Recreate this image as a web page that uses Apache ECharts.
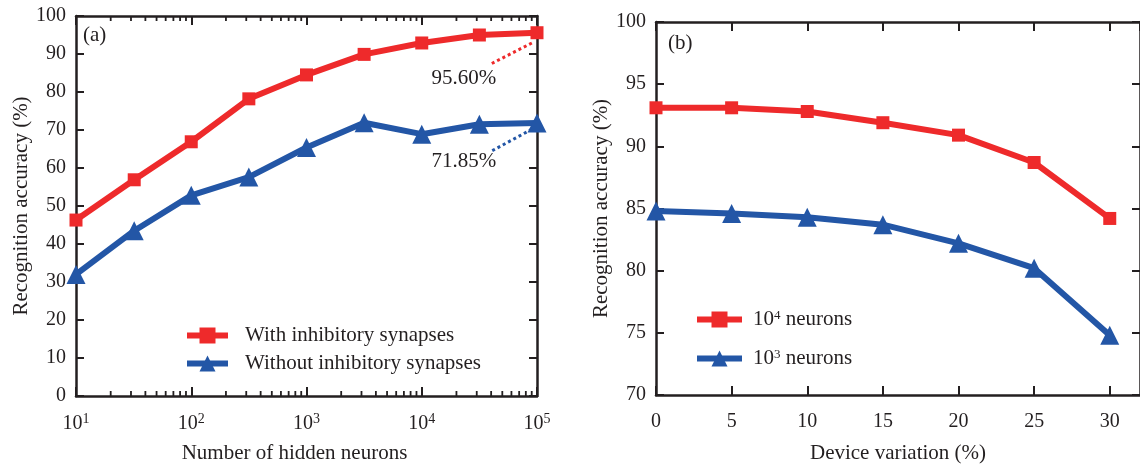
<!DOCTYPE html>
<html>
<head>
<meta charset="utf-8">
<script src="https://cdn.jsdelivr.net/npm/echarts@6/dist/echarts.min.js"></script>
<style>
  html, body { margin: 0; padding: 0; background: #fff; overflow: hidden; }
  #chart { width: 1140px; height: 469px; }
</style>
</head>
<body>
<div id="chart"></div>
<script>
// (a) accuracy versus number of hidden neurons
const hiddenNeurons = [10, 32, 100, 316, 1000, 3162, 10000, 31623, 100000];
const accWithInhibitory = [46.3, 56.9, 66.9, 78.2, 84.5, 89.9, 92.9, 95.0, 95.6];
const accWithoutInhibitory = [32.0, 43.5, 52.8, 57.6, 65.4, 71.9, 68.9, 71.5, 71.85];

// (b) accuracy versus device variation
const deviceVariation = [0, 5, 10, 15, 20, 25, 30];
const acc1e4Neurons = [93.1, 93.1, 92.8, 91.9, 90.9, 88.7, 84.2];
const acc1e3Neurons = [84.8, 84.6, 84.3, 83.7, 82.2, 80.2, 74.8];

// axis tick settings
const leftYTicks = { min: 0, max: 100, interval: 10 };
const rightYTicks = { min: 70, max: 100, interval: 5 };
const rightXTicks = { min: 0, max: 32, interval: 5 };
const logDecades = [1, 2, 3, 4];
const logMantissas = [2, 3, 4, 5, 6, 7, 8, 9];

const RED = '#ee2a2b';
const BLUE = '#2356a6';
const INK = '#231f20';
const FONT = 'Liberation Serif';

const minorLogTicks = [];
logDecades.forEach(e => logMantissas.forEach(m => minorLogTicks.push([m * Math.pow(10, e), 0])));

const pairs = (xs, ys) => xs.map((x, i) => [x, ys[i]]);

const axisLine = { show: true, onZero: false, lineStyle: { color: INK, width: 2.5 } };
const tickIn = (len) => ({ show: true, inside: true, length: len, lineStyle: { color: INK, width: 2 } });
const labelStyle = { color: INK, fontFamily: FONT, fontSize: 20 };
const nameStyle = { color: INK, fontFamily: FONT, fontSize: 21 };

const supRich = {
  b: { fontFamily: FONT, fontSize: 20, color: INK, verticalAlign: 'bottom', padding: [2, 0, 0, 0] },
  s: { fontFamily: FONT, fontSize: 14, color: INK, verticalAlign: 'top' }
};

const lastWith = accWithInhibitory[accWithInhibitory.length - 1];
const lastWithout = accWithoutInhibitory[accWithoutInhibitory.length - 1];
const pct = v => v.toFixed(2) + '%';

const lineSeries = (name, data, color, symbol, size, xi, yi) => ({
  name, type: 'line', data, xAxisIndex: xi, yAxisIndex: yi,
  symbol, symbolSize: size, showSymbol: true,
  lineStyle: { color, width: 6 },
  itemStyle: { color },
  z: 5
});

const chart = echarts.init(document.getElementById('chart'), null, { renderer: 'canvas' });

const option = {
  animation: false,
  backgroundColor: '#fff',
  textStyle: { fontFamily: FONT },
  grid: [
    { left: 76, top: 16, width: 461, height: 383.3 },
    { left: 656, top: 22, width: 486, height: 375 }
  ],
  xAxis: [
    {
      gridIndex: 0, type: 'log', logBase: 10, min: 10, max: 100000, position: 'bottom',
      axisLine, axisTick: tickIn(9), splitLine: { show: false },
      axisLabel: {
        margin: 16,
        formatter: v => '{b|10}{s|' + Math.round(Math.log10(v)) + '}',
        rich: supRich
      },
      name: 'Number of hidden neurons', nameLocation: 'middle', nameGap: 47,
      nameTextStyle: { ...nameStyle, padding: [0, 24, 0, 0] }
    },
    {
      gridIndex: 0, type: 'log', logBase: 10, min: 10, max: 100000, position: 'top',
      axisLine, axisTick: tickIn(9), axisLabel: { show: false }, splitLine: { show: false }
    },
    {
      gridIndex: 1, type: 'value', ...rightXTicks, position: 'bottom',
      axisLine, axisTick: tickIn(9), splitLine: { show: false },
      axisLabel: {
        ...labelStyle, margin: 17, showMaxLabel: false,
        formatter: v => (v % 5 === 0 ? String(v) : '')
      },
      name: 'Device variation (%)', nameLocation: 'middle', nameGap: 48, nameTextStyle: nameStyle
    },
    {
      gridIndex: 1, type: 'value', ...rightXTicks, position: 'top',
      axisLine, axisTick: tickIn(9), axisLabel: { show: false }, splitLine: { show: false }
    }
  ],
  yAxis: [
    {
      gridIndex: 0, type: 'value', ...leftYTicks, position: 'left',
      axisLine, axisTick: tickIn(8), splitLine: { show: false },
      axisLabel: { ...labelStyle, margin: 10 },
      name: 'Recognition accuracy (%)', nameLocation: 'middle', nameGap: 41, nameTextStyle: nameStyle
    },
    {
      gridIndex: 0, type: 'value', ...leftYTicks, position: 'right',
      axisLine, axisTick: tickIn(8), axisLabel: { show: false }, splitLine: { show: false }
    },
    {
      gridIndex: 1, type: 'value', ...rightYTicks, position: 'left',
      axisLine, axisTick: tickIn(8), splitLine: { show: false },
      axisLabel: { ...labelStyle, margin: 10 },
      name: 'Recognition accuracy (%)', nameLocation: 'middle', nameGap: 41, nameTextStyle: nameStyle
    },
    {
      gridIndex: 1, type: 'value', ...rightYTicks, position: 'right',
      axisLine, axisTick: tickIn(8), axisLabel: { show: false }, splitLine: { show: false }
    }
  ],
  legend: [
    {
      data: ['With inhibitory synapses', 'Without inhibitory synapses'],
      orient: 'vertical', left: 179, top: 320,
      itemWidth: 41, itemHeight: 20, itemGap: 7,
      lineStyle: { width: 6 },
      textStyle: { color: INK, fontFamily: FONT, fontSize: 21, padding: [0, 0, 0, 12] },
      selectedMode: false
    },
    {
      data: ['1e4', '1e3'],
      orient: 'vertical', left: 689, top: 304,
      itemWidth: 45, itemHeight: 20, itemGap: 18,
      lineStyle: { width: 6 },
      formatter: n => '{b|10}{s|' + (n === '1e4' ? '4' : '3') + '}{b| neurons}',
      textStyle: {
        color: INK, fontFamily: FONT, fontSize: 21, padding: [0, 0, 0, 6],
        rich: {
          b: { fontFamily: FONT, fontSize: 21, color: INK },
          s: { fontFamily: FONT, fontSize: 13, color: INK, verticalAlign: 'top' }
        }
      },
      selectedMode: false
    }
  ],
  graphic: [
    { type: 'text', left: 83, top: 25, style: { text: '(a)', font: '21px "Liberation Serif"', fill: INK } },
    { type: 'text', left: 668, top: 33, style: { text: '(b)', font: '21px "Liberation Serif"', fill: INK } }
  ],
  series: [
    {
      ...lineSeries('Without inhibitory synapses', pairs(hiddenNeurons, accWithoutInhibitory), BLUE, 'triangle', 19, 0, 0),
      markLine: {
        silent: true, symbol: 'none', label: { show: false },
        lineStyle: { color: BLUE, width: 3, type: [3, 3] },
        data: [[{ coord: [90170, 70.2] }, { coord: [40550, 64.5] }]]
      },
      markPoint: {
        silent: true, symbol: 'circle', symbolSize: 0,
        label: { show: true, position: 'inside', formatter: pct(lastWithout), color: INK, fontFamily: FONT, fontSize: 21 },
        data: [{ coord: [23170, 61.6] }]
      }
    },
    {
      ...lineSeries('With inhibitory synapses', pairs(hiddenNeurons, accWithInhibitory), RED, 'rect', 13, 0, 0),
      markLine: {
        silent: true, symbol: 'none', label: { show: false },
        lineStyle: { color: RED, width: 3, type: [3, 3] },
        data: [[{ coord: [90170, 92.9] }, { coord: [40550, 87.5] }]]
      },
      markPoint: {
        silent: true, symbol: 'circle', symbolSize: 0,
        label: { show: true, position: 'inside', formatter: pct(lastWith), color: INK, fontFamily: FONT, fontSize: 21 },
        data: [{ coord: [23170, 83.5] }]
      }
    },
    lineSeries('1e3', pairs(deviceVariation, acc1e3Neurons), BLUE, 'triangle', 19, 2, 2),
    lineSeries('1e4', pairs(deviceVariation, acc1e4Neurons), RED, 'rect', 13, 2, 2),
    {
      // minor log ticks along the bottom and top of panel (a)
      type: 'custom', xAxisIndex: 0, yAxisIndex: 0, silent: true, z: 3,
      data: minorLogTicks,
      renderItem: (params, api) => {
        const b = api.coord([api.value(0), leftYTicks.min]);
        const t = api.coord([api.value(0), leftYTicks.max]);
        const st = { stroke: INK, lineWidth: 1.8 };
        return {
          type: 'group',
          children: [
            { type: 'line', shape: { x1: b[0], y1: b[1], x2: b[0], y2: b[1] - 5 }, style: st },
            { type: 'line', shape: { x1: t[0], y1: t[1], x2: t[0], y2: t[1] + 5 }, style: st }
          ]
        };
      }
    }
  ]
};

chart.setOption(option);
</script>
</body>
</html>
